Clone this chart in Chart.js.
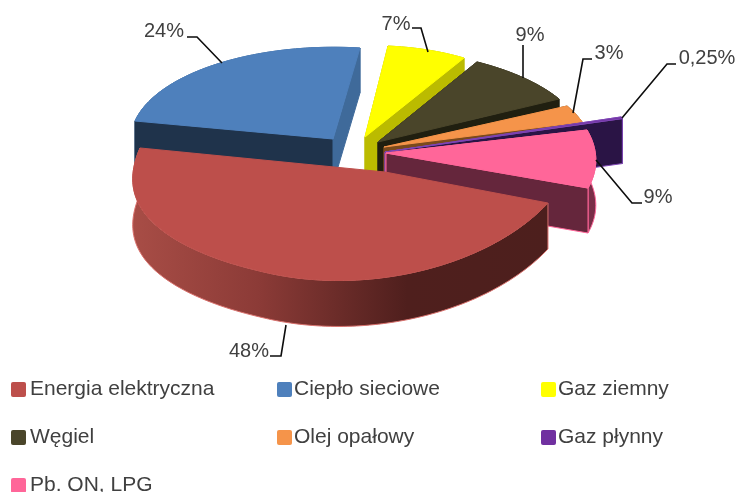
<!DOCTYPE html>
<html><head><meta charset="utf-8">
<style>html,body{margin:0;padding:0;background:#fff;overflow:hidden}canvas{display:block}</style>
<script src="https://cdn.jsdelivr.net/npm/chart.js@4"></script>
</head><body><canvas id="c" width="736" height="492"></canvas>
<script>
const categories = ["Energia elektryczna","Ciepło sieciowe","Gaz ziemny","Węgiel","Olej opałowy","Gaz płynny","Pb. ON, LPG"];
const values = [48,24,7,9,3,0.25,9];
const valueLabels = ["48%","24%","7%","9%","3%","0,25%","9%"];
const colors = ["#bd4f4b","#4e80bc","#ffff00","#4a452a","#f5944a","#7030a0","#ff6699"];

// Camera for each exploded slice: apex offset, affine terms and perspective terms.
const camera = [
 {a:[385,172],rx:212.2,kx:0.8,ky:-17.2,ry:129.5,g:.1073,h:.2301,depth:46,flare:{from:130,to:196.37,amount:16}},
 {a:[333,139],rx:201.3,kx:17.2,ky:-8.1,ry:91.4,depth:45},
 {a:[365,137],rx:184.5,kx:17.5,ky:-12,ry:90.5,depth:45},
 {a:[378,142],rx:204.6,kx:33,ky:-12.5,ry:91.5,depth:45},
 {a:[384,147],rx:205.4,kx:29.1,ky:-10.6,ry:90.8,depth:45},
 {a:[385,152],rx:245,kx:35,ky:-17.7,ry:110,depth:45},
 {a:[386,153],rx:207.6,kx:30.4,ky:-8,ry:104.1,depth:45}
];
const wallStyle = [
 {start:null,end:null,outer:"grad",edge:"#d9706c"},
 {start:"#1f334b",end:"#3f6a9a",outer:"#3f6a9a",edge:null},
 {start:"#bbbb00",end:"#bbbb00",outer:"#bbbb00",edge:null},
 {start:"#201f10",end:"#201f10",outer:"#201f10",edge:null},
 {start:"#7a4a1c",end:"#7a4a1c",outer:"#7a4a1c",edge:null},
 {start:"#2a1445",end:"#2a1445",outer:"#2a1445",edge:"#7f45b5"},
 {start:"#65263c",end:"#65263c",outer:"#7a2e48",edge:"#ff6699"}
];
const labelPlace = [
 {t:[249,351],l:[[286,325],[281,356],[270,356]]},
 {t:[164,31],l:[[222,63],[197,37],[187,37]]},
 {t:[396,24],l:[[428,52],[421,28],[412,28]]},
 {t:[530,35],l:[[523,78],[523,45]]},
 {t:[609,53],l:[[573,113],[583,59],[592,59]]},
 {t:[707,58],l:[[622,118],[667,64],[676,64]]},
 {t:[658,197],l:[[596,160],[632,203],[642,203]]}
];
const legendCols = [11,277,541];
const legendTextCols = [30,294,558];
const legendRows = [389,437,485];
const drawOrder = [1,2,3,4,5,6,0];

function project(cam,th){
  const X=Math.cos(th),Y=Math.sin(th),w=1+(cam.g||0)*X+(cam.h||0)*Y;
  let x=cam.a[0]+(cam.rx*X+cam.kx*Y)/w;
  const y=cam.a[1]+(cam.ky*X+cam.ry*Y)/w;
  if(cam.flare){
    const u=(th*180/Math.PI-cam.flare.from)/(cam.flare.to-cam.flare.from);
    if(u>0&&u<1)x-=cam.flare.amount*Math.sin(Math.PI*Math.pow(u,1.3));
  }
  return [x,y];
}
function poly(ctx,pts,fill,edge){
  ctx.beginPath();
  pts.forEach((p,i)=>i?ctx.lineTo(p[0],p[1]):ctx.moveTo(p[0],p[1]));
  ctx.closePath();
  ctx.fillStyle=fill;ctx.fill();
  ctx.lineWidth=1;ctx.strokeStyle=edge||fill;ctx.stroke();
}
const pie3d = {
  id:'pie3d',
  beforeDatasetsDraw(chart){
    const ctx=chart.ctx, arcs=chart.getDatasetMeta(0).data;
    ctx.save();
    drawOrder.forEach(i=>{
      const arc=arcs[i],cam=camera[i],st=wallStyle[i],d=cam.depth;
      const t0=arc.startAngle,t1=arc.endAngle,n=Math.max(2,Math.ceil((t1-t0)*40));
      const rim=[];for(let k=0;k<=n;k++)rim.push(project(cam,t0+(t1-t0)*k/n));
      const down=p=>[p[0],p[1]+d];
      const ap=cam.a,p0=rim[0],p1=rim[n];
      let outer=st.outer;
      if(outer==="grad"){
        outer=ctx.createLinearGradient(133,0,548,0);
        outer.addColorStop(0,"#a84d46");outer.addColorStop(.3,"#8c3b37");
        outer.addColorStop(.66,"#4f1f1d");outer.addColorStop(1,"#4d1f1d");
      }
      poly(ctx,rim.concat(rim.slice().reverse().map(down)),outer,st.edge);
      if(st.start)poly(ctx,[ap,p0,down(p0),down(ap)],st.start,st.edge);
      if(st.end)poly(ctx,[ap,p1,down(p1),down(ap)],st.end,st.edge);
      poly(ctx,[ap].concat(rim),colors[i],i===5?"#7f45b5":null);
    });
    // Value labels with leader lines
    ctx.font='20px "Liberation Sans"';ctx.textAlign='center';ctx.textBaseline='middle';
    valueLabels.forEach((s,i)=>{
      const L=labelPlace[i];
      ctx.beginPath();L.l.forEach((p,k)=>k?ctx.lineTo(p[0],p[1]):ctx.moveTo(p[0],p[1]));
      ctx.lineWidth=1.6;ctx.strokeStyle='#0d0d0d';ctx.stroke();
      ctx.fillStyle='#404040';ctx.fillText(s,L.t[0],L.t[1]);
    });
    // Three-column legend
    ctx.textAlign='left';ctx.font='21px "Liberation Sans"';
    categories.forEach((s,i)=>{
      const x=legendCols[i%3],y=legendRows[Math.floor(i/3)];
      ctx.fillStyle=colors[i];
      ctx.beginPath();ctx.roundRect(x,y-7,15,15,2);ctx.fill();
      ctx.fillStyle='#404040';ctx.fillText(s,legendTextCols[i%3],y);
    });
    ctx.restore();
    return false;
  }
};
new Chart(document.getElementById('c'),{
  type:'pie',
  data:{labels:categories,datasets:[{data:values,backgroundColor:colors,borderWidth:0}]},
  options:{responsive:false,animation:false,rotation:114,
    plugins:{legend:{display:false},tooltip:{enabled:false},title:{display:false}}},
  plugins:[pie3d]
});
</script></body></html>
